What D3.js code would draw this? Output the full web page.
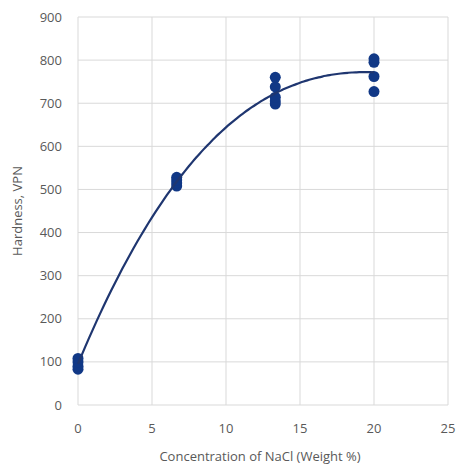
<!DOCTYPE html>
<html>
<head>
<meta charset="utf-8">
<script src="https://cdn.jsdelivr.net/npm/d3@7"></script>
<style>
  body { margin: 0; background: #fff; }
  text { font-family: "Open Sans", sans-serif; fill: #595959; }
</style>
</head>
<body>
<script>
// measured points (NaCl weight %, hardness VPN)
var naclPct = [0, 0, 0, 0, 6.67, 6.67, 6.67, 6.67, 13.33, 13.33, 13.33, 13.33, 13.33, 20, 20, 20, 20];
var hardness = [83, 90, 100, 108, 508, 515, 522, 528, 698, 705, 714, 738, 760, 727, 762, 795, 803];
var xTicks = [0, 5, 10, 15, 20, 25];
var yTicks = [0, 100, 200, 300, 400, 500, 600, 700, 800, 900];

var svgWidth = 460;
var svgHeight = 468;
var Margin = { top: 17, right: 12, bottom: 63, left: 78 };
var Width = svgWidth - Margin.left - Margin.right;
var Height = svgHeight - Margin.top - Margin.bottom;

var svg = d3.select("body").append("svg")
  .attr("width", svgWidth)
  .attr("height", svgHeight);

var chartGroup = svg.append("g")
  .attr("transform", `translate(${Margin.left}, ${Margin.top})`);

var xScale = d3.scaleLinear().domain([0, 25]).range([0, Width]);
var yScale = d3.scaleLinear().domain([0, 900]).range([Height, 0]);

// gridlines
chartGroup.selectAll(".hgrid").data(yTicks).enter().append("line")
  .attr("x1", 0).attr("x2", Width)
  .attr("y1", d => yScale(d)).attr("y2", d => yScale(d))
  .attr("stroke", "#d9d9d9").attr("stroke-width", 1);
chartGroup.selectAll(".vgrid").data(xTicks).enter().append("line")
  .attr("y1", 0).attr("y2", Height)
  .attr("x1", d => xScale(d)).attr("x2", d => xScale(d))
  .attr("stroke", "#d9d9d9").attr("stroke-width", 1);

// tick labels
chartGroup.selectAll(".ylab").data(yTicks).enter().append("text")
  .attr("x", -16)
  .attr("y", d => yScale(d))
  .attr("dy", "0.35em")
  .style("text-anchor", "end")
  .style("font-size", "13px")
  .text(d => d);
chartGroup.selectAll(".xlab").data(xTicks).enter().append("text")
  .attr("x", d => xScale(d))
  .attr("y", Height + 23)
  .attr("dy", "0.35em")
  .style("text-anchor", "middle")
  .style("font-size", "13px")
  .text(d => d);

// axis titles
svg.append("text")
  .attr("x", Margin.left + xScale(12.3))
  .attr("y", 461)
  .style("text-anchor", "middle")
  .style("font-size", "13px")
  .text("Concentration of NaCl (Weight %)");
svg.append("text")
  .attr("transform", "rotate(-90)")
  .attr("x", -(Margin.top + Height / 2))
  .attr("y", 22)
  .style("text-anchor", "middle")
  .style("font-size", "13px")
  .text("Hardness, VPN");

// cubic least-squares trendline fitted to the points
function polyFit(xs, ys, order) {
  var n = order + 1;
  var A = [];
  for (var r = 0; r < n; r++) {
    A.push([]);
    for (var c = 0; c < n; c++) A[r].push(d3.sum(xs, x => Math.pow(x, r + c)));
    A[r].push(d3.sum(xs, (x, i) => ys[i] * Math.pow(x, r)));
  }
  for (var c = 0; c < n; c++) {
    for (var r = c + 1; r < n; r++) {
      var f = A[r][c] / A[c][c];
      for (var k = c; k <= n; k++) A[r][k] -= f * A[c][k];
    }
  }
  var coef = new Array(n).fill(0);
  for (var r = n - 1; r >= 0; r--) {
    var s = A[r][n];
    for (var k = r + 1; k < n; k++) s -= A[r][k] * coef[k];
    coef[r] = s / A[r][r];
  }
  return coef;
}
var coef = polyFit(naclPct, hardness, 3);
function trend(x) {
  return coef.reduce((s, c, k) => s + c * Math.pow(x, k), 0);
}
var curveX = d3.range(0, 20.001, 0.25);
var line = d3.line()
  .x(d => xScale(d))
  .y(d => yScale(trend(d)))
  .curve(d3.curveBasis);

chartGroup.selectAll(".circle").data(naclPct).enter().append("circle")
  .attr("cx", d => xScale(d))
  .attr("cy", (d, i) => yScale(hardness[i]))
  .attr("r", 5.5)
  .attr("fill", "#113886");

chartGroup.append("path")
  .datum(curveX)
  .attr("d", line)
  .attr("fill", "none")
  .attr("stroke", "#1f3670")
  .attr("stroke-width", 2.2);
</script>
</body>
</html>
